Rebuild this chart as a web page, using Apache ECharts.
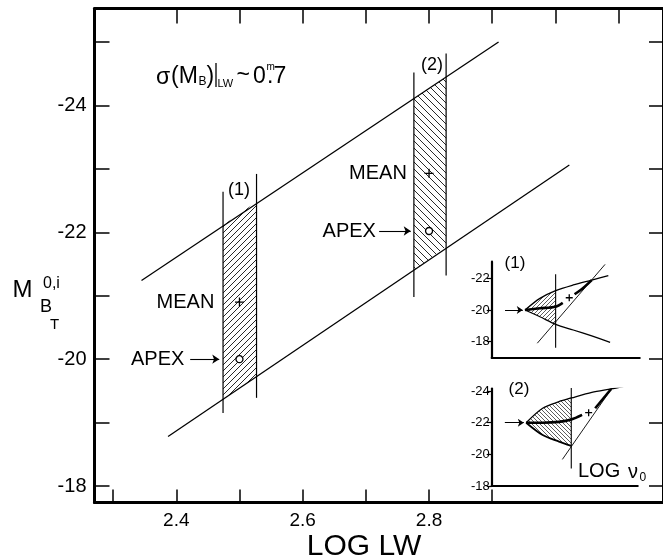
<!DOCTYPE html>
<html>
<head>
<meta charset="utf-8">
<script src="https://cdn.jsdelivr.net/npm/echarts@6/dist/echarts.min.js"></script>
<style>
  html, body { margin: 0; padding: 0; background: #fff; }
  #chart { width: 663px; height: 559px; }
</style>
</head>
<body>
<div id="chart"></div>
<script>
// ---- main panel: absolute magnitude vs. LOG LW ----
const xTickValues    = [2.3, 2.4, 2.5, 2.6, 2.7, 2.8, 2.9];
const xTopTickValues = [2.4, 2.5, 2.6, 2.7, 2.8, 2.9, 3.0, 3.1];
const xLabelValues   = [2.4, 2.6, 2.8];
const yTickValues    = [-25, -24, -23, -22, -21, -20, -19, -18];
const yLabelValues   = [-24, -22, -20, -18];

// the two parallel limiting lines
const upperLineX = [2.345, 2.910];
const upperLineY = [-21.24, -25.00];
const lowerLineX = [2.387, 3.022];
const lowerLineY = [-18.78, -23.06];

// window (1)
const band1X        = [2.474, 2.527];
const band1Top      = [-22.11, -22.48];
const band1Bottom   = [-19.37, -19.72];
const band1LeftEdge = [-22.64, -19.15];
const band1RightEdge= [-22.92, -19.39];
const band1Mean     = [2.50, -20.90];
const band1Apex     = [2.50, -20.00];
const band1ArrowX   = [2.422, 2.468];

// window (2)
const band2X        = [2.776, 2.827];
const band2Top      = [-24.11, -24.45];
const band2Bottom   = [-21.41, -21.77];
const band2LeftEdge = [-24.52, -20.98];
const band2RightEdge= [-24.82, -21.32];
const band2Mean     = [2.80, -22.93];
const band2Apex     = [2.80, -22.02];
const band2ArrowX   = [2.721, 2.771];

// ---- inset (1): magnitude vs. LOG v0 (arbitrary units along x) ----
const in1UpperX = [2.25, 3.26, 4.32, 5.51, 6.76, 7.88];
const in1UpperY = [-20.0, -20.74, -21.23, -21.59, -21.90, -22.18];
const in1LowerX = [2.25, 3.26, 4.32, 5.51, 6.76, 8.0];
const in1LowerY = [-20.0, -19.57, -19.09, -18.73, -18.35, -17.95];
const in1CutX   = 4.32;
const in1CutY   = [-22.27, -17.61];
const in1SlopeX = [3.08, 7.66];
const in1SlopeY = [-17.89, -22.90];
const in1PathX  = [2.25, 3.26, 4.32, 4.80];
const in1PathY  = [-20.0, -20.11, -20.21, -20.45];
const in1TailX  = [5.60, 6.20, 6.76];
const in1TailY  = [-21.00, -21.42, -21.90];
const in1Mean   = [5.24, -20.78];
const in1ArrowX = [0.9, 2.1];
const in1ArrowY = -20.0;
const in1Ticks  = [-22, -20, -18];

// ---- inset (2) ----
const in2UpperX = [2.36, 3.49, 4.61, 5.45, 6.86, 8.18, 9.01];
const in2UpperY = [-22.0, -22.91, -23.33, -23.56, -23.92, -24.13, -24.28];
const in2LowerX = [2.36, 3.49, 4.61, 5.45];
const in2LowerY = [-22.0, -21.22, -20.80, -20.53];
const in2CutX   = 5.45;
const in2CutY   = [-24.49, -19.11];
const in2SlopeX = [4.84, 8.78];
const in2SlopeY = [-19.68, -24.91];
const in2PathX  = [2.36, 3.49, 4.61, 5.45, 6.19];
const in2PathY  = [-22.0, -22.0, -22.05, -22.2, -22.49];
const in2TailX  = [7.09, 8.18];
const in2TailY  = [-22.91, -24.13];
const in2Mean   = [6.64, -22.63];
const in2ArrowX = [0.9, 2.2];
const in2ArrowY = -22.0;
const in2Ticks  = [-24, -22, -20, -18];

const FONT = '"Liberation Sans", Arial, Helvetica, sans-serif';
const INK = '#000';
const font = (size) => size + 'px ' + FONT;
const zip = (xs, ys) => xs.map((x, i) => [x, ys[i]]);

// diagonal hatch tile used as a repeating fill pattern
function hatch(size, forward, width, color) {
  const c = document.createElement('canvas');
  c.width = c.height = size;
  const g = c.getContext('2d');
  g.strokeStyle = color;
  g.lineWidth = width;
  g.beginPath();
  if (forward) {            // '/'
    g.moveTo(-1, size + 1); g.lineTo(size + 1, -1);
    g.moveTo(-1, 1); g.lineTo(1, -1);
    g.moveTo(size - 1, size + 1); g.lineTo(size + 1, size - 1);
  } else {                  // '\'
    g.moveTo(-1, -1); g.lineTo(size + 1, size + 1);
    g.moveTo(size - 1, -1); g.lineTo(size + 1, 1);
    g.moveTo(-1, size - 1); g.lineTo(1, size + 1);
  }
  g.stroke();
  return { image: c, repeat: 'repeat' };
}

const PLUS = 'path://M5,0L5,10M0,5L10,5';

function lineSeries(data, xi, yi, width, extra) {
  return Object.assign({
    type: 'line', xAxisIndex: xi, yAxisIndex: yi, data: data,
    showSymbol: false, symbol: 'none', silent: true,
    lineStyle: { color: INK, width: width }, z: 3
  }, extra || {});
}

// hatched window between band edges, from [x0, x1, top0, top1, bottom0, bottom1]
function bandSeries(x, top, bottom, pattern) {
  return {
    type: 'custom', xAxisIndex: 0, yAxisIndex: 0, silent: true, z: 1,
    data: [[x[0], x[1], top[0], top[1], bottom[0], bottom[1]]],
    encode: { x: [0, 1], y: [2, 3, 4, 5] },
    renderItem: function (params, api) {
      const p = [
        api.coord([api.value(0), api.value(2)]),
        api.coord([api.value(1), api.value(3)]),
        api.coord([api.value(1), api.value(5)]),
        api.coord([api.value(0), api.value(4)])
      ];
      return { type: 'polygon', shape: { points: p }, style: { fill: pattern, stroke: null } };
    }
  };
}

// hatched lens between the two inset curves, left of the cut
function lensSeries(xi, yi, ux, uy, lx, ly, cutX, pattern) {
  const up = zip(ux, uy).filter(p => p[0] <= cutX + 1e-9);
  const lo = zip(lx, ly).filter(p => p[0] <= cutX + 1e-9).reverse();
  const flat = [];
  up.concat(lo).forEach(p => { flat.push(p[0], p[1]); });
  return {
    type: 'custom', xAxisIndex: xi, yAxisIndex: yi, silent: true, z: 1,
    data: [flat],
    renderItem: function (params, api) {
      const pts = [];
      for (let i = 0; i < flat.length; i += 2) pts.push(api.coord([api.value(i), api.value(i + 1)]));
      return { type: 'polygon', shape: { points: pts }, style: { fill: pattern, stroke: null } };
    }
  };
}

function arrowSeries(xi, yi, x, y, size) {
  return {
    type: 'lines', coordinateSystem: 'cartesian2d', xAxisIndex: xi, yAxisIndex: yi,
    silent: true, z: 4,
    symbol: ['none', 'arrow'], symbolSize: size,
    lineStyle: { color: INK, width: 1.1, opacity: 1 },
    data: [{ coords: [[x[0], y], [x[1], y]] }]
  };
}

function markerSeries(xi, yi, point, symbol, size, labelText, dist, fill) {
  return {
    type: 'scatter', xAxisIndex: xi, yAxisIndex: yi, silent: true, z: 5,
    symbol: symbol, symbolSize: size,
    itemStyle: { color: fill, borderColor: INK, borderWidth: 1.3, opacity: 1 },
    label: labelText ? {
      show: true, position: 'left', distance: dist, formatter: labelText,
      fontFamily: FONT, fontSize: 20, color: INK
    } : { show: false },
    data: [point]
  };
}

const X_MIN = 2.2706, X_MAX = 3.1702;
const Y_MIN = -25.528, Y_MAX = -17.740;

const mainAxisLine = { show: true, onZero: false, lineStyle: { color: INK, width: 3 } };
const insetAxisLine = { show: true, onZero: false, lineStyle: { color: INK, width: 2.2 } };

const option = {
  animation: false,
  backgroundColor: '#fff',
  textStyle: { fontFamily: FONT, color: INK },
  grid: [
    { left: 94.5, top: 8.5, width: 573.5, height: 494 },
    { left: 491.7, top: 261.7, width: 148, height: 96 },
    { left: 491.7, top: 388.5, width: 146, height: 97.5 }
  ],
  xAxis: [
    { gridIndex: 0, type: 'value', position: 'bottom', min: X_MIN, max: X_MAX,
      axisLine: mainAxisLine,
      axisTick: { show: true, inside: true, length: 13, customValues: xTickValues,
                  lineStyle: { color: INK, width: 1.5 } },
      axisLabel: { show: true, customValues: xLabelValues, formatter: v => v.toFixed(1),
                   fontSize: 19, color: INK, margin: 9 },
      splitLine: { show: false } },
    { gridIndex: 0, type: 'value', position: 'top', min: X_MIN, max: X_MAX,
      axisLine: mainAxisLine,
      axisTick: { show: true, inside: true, length: 15, customValues: xTopTickValues,
                  lineStyle: { color: INK, width: 1.5 } },
      axisLabel: { show: false }, splitLine: { show: false } },
    { gridIndex: 1, type: 'value', min: 0, max: 10, axisLine: insetAxisLine,
      axisTick: { show: false }, axisLabel: { show: false }, splitLine: { show: false } },
    { gridIndex: 2, type: 'value', min: 0, max: 10, axisLine: insetAxisLine,
      axisTick: { show: false }, axisLabel: { show: false }, splitLine: { show: false } }
  ],
  yAxis: [
    { gridIndex: 0, type: 'value', position: 'left', inverse: true, min: Y_MIN, max: Y_MAX,
      axisLine: mainAxisLine,
      axisTick: { show: true, inside: true, length: 15, customValues: yTickValues,
                  lineStyle: { color: INK, width: 1.5 } },
      axisLabel: { show: true, customValues: yLabelValues, fontSize: 20, color: INK, margin: 8 },
      splitLine: { show: false } },
    { gridIndex: 0, type: 'value', position: 'right', inverse: true, min: Y_MIN, max: Y_MAX,
      axisLine: mainAxisLine,
      axisTick: { show: true, inside: true, length: 14, customValues: yTickValues,
                  lineStyle: { color: INK, width: 1.5 } },
      axisLabel: { show: false }, splitLine: { show: false } },
    { gridIndex: 1, type: 'value', inverse: true, min: -23.07, max: -16.97,
      axisLine: insetAxisLine,
      axisTick: { show: true, length: 5, customValues: in1Ticks, lineStyle: { color: INK, width: 1.2 } },
      axisLabel: { show: true, customValues: in1Ticks, fontSize: 13, color: INK, margin: 2 },
      splitLine: { show: false } },
    { gridIndex: 2, type: 'value', inverse: true, min: -24.16, max: -18.0,
      axisLine: insetAxisLine,
      axisTick: { show: true, length: 5, customValues: in2Ticks, lineStyle: { color: INK, width: 1.2 } },
      axisLabel: { show: true, customValues: in2Ticks, fontSize: 13, color: INK, margin: 2 },
      splitLine: { show: false } }
  ],
  series: [
    // main panel
    bandSeries(band1X, band1Top, band1Bottom, hatch(6, true, 0.9, '#111')),
    bandSeries(band2X, band2Top, band2Bottom, hatch(7, false, 0.9, '#111')),
    lineSeries(zip(upperLineX, upperLineY), 0, 0, 1.3),
    lineSeries(zip(lowerLineX, lowerLineY), 0, 0, 1.3),
    lineSeries([[band1X[0], band1LeftEdge[0]], [band1X[0], band1LeftEdge[1]]], 0, 0, 1.2),
    lineSeries([[band1X[1], band1RightEdge[0]], [band1X[1], band1RightEdge[1]]], 0, 0, 1.2),
    lineSeries([[band2X[0], band2LeftEdge[0]], [band2X[0], band2LeftEdge[1]]], 0, 0, 1.2),
    lineSeries([[band2X[1], band2RightEdge[0]], [band2X[1], band2RightEdge[1]]], 0, 0, 1.2),
    markerSeries(0, 0, band1Mean, PLUS, 9, 'MEAN', 20, 'transparent'),
    markerSeries(0, 0, band1Apex, 'circle', 7, 'APEX', 51, '#fff'),
    markerSeries(0, 0, band2Mean, PLUS, 9, 'MEAN', 17, 'transparent'),
    markerSeries(0, 0, band2Apex, 'circle', 7, 'APEX', 49, '#fff'),
    arrowSeries(0, 0, band1ArrowX, band1Apex[1], 7),
    arrowSeries(0, 0, band2ArrowX, band2Apex[1], 7),

    // inset (1)
    lensSeries(2, 2, in1UpperX, in1UpperY, in1LowerX, in1LowerY, in1CutX, hatch(4, true, 0.8, '#333')),
    lineSeries(zip(in1UpperX, in1UpperY), 2, 2, 1.3, { smooth: 0.3 }),
    lineSeries(zip(in1LowerX, in1LowerY), 2, 2, 1.3, { smooth: 0.3 }),
    lineSeries([[in1CutX, in1CutY[0]], [in1CutX, in1CutY[1]]], 2, 2, 1.1),
    lineSeries(zip(in1SlopeX, in1SlopeY), 2, 2, 0.9),
    lineSeries(zip(in1PathX, in1PathY), 2, 2, 2.6, { smooth: 0.3 }),
    lineSeries(zip(in1TailX, in1TailY), 2, 2, 2.6, { smooth: 0.3 }),
    markerSeries(2, 2, in1Mean, PLUS, 7, null, 0, 'transparent'),
    arrowSeries(2, 2, in1ArrowX, in1ArrowY, 6),

    // inset (2)
    lensSeries(3, 3, in2UpperX, in2UpperY, in2LowerX, in2LowerY, in2CutX, hatch(4, false, 0.8, '#333')),
    lineSeries(zip(in2UpperX, in2UpperY), 3, 3, 1.3, { smooth: 0.3 }),
    lineSeries(zip(in2LowerX, in2LowerY), 3, 3, 1.8, { smooth: 0.3 }),
    lineSeries([[in2CutX, in2CutY[0]], [in2CutX, in2CutY[1]]], 3, 3, 1.1),
    lineSeries(zip(in2SlopeX, in2SlopeY), 3, 3, 0.9),
    lineSeries(zip(in2PathX, in2PathY), 3, 3, 2.6, { smooth: 0.3 }),
    lineSeries(zip(in2TailX, in2TailY), 3, 3, 2.6),
    markerSeries(3, 3, in2Mean, PLUS, 7, null, 0, 'transparent'),
    arrowSeries(3, 3, in2ArrowX, in2ArrowY, 6)
  ],
  graphic: []
};

// free-standing text: axis titles, window labels, scatter note
function txt(text, x, y, size, align) {
  return {
    type: 'text', x: x, y: y, silent: true, z: 10,
    style: {
      text: text, font: font(size), fill: INK,
      align: align || 'left', verticalAlign: 'middle',
      textAlign: align || 'left', textVerticalAlign: 'middle'
    }
  };
}

option.graphic = [
  // y title  M_{B_T}^{0,i}
  txt('M', 12.5, 290, 24),
  txt('0,i', 43, 283.5, 16),
  txt('B', 40, 307.5, 18),
  txt('T', 50, 325, 15),
  // x title
  txt('LOG LW', 364, 546.5, 30, 'center'),
  // window labels
  txt('(1)', 239, 190, 18, 'center'),
  txt('(2)', 432, 65, 18, 'center'),
  txt('(1)', 515, 263.5, 17, 'center'),
  txt('(2)', 519, 389, 17, 'center'),
  // inset x title  LOG v0
  txt('LOG', 578, 471, 20),
  txt('\u03bd', 628, 472, 20),
  txt('0', 639.5, 478, 12),
  // scatter note  σ(M_B)|_LW ~ 0^m.7
  txt('\u03c3', 156, 78, 23),
  txt('(M', 171, 77, 23),
  txt('B', 198.5, 82, 12),
  txt(')', 206.5, 77, 23),
  { type: 'line', silent: true, z: 10,
    shape: { x1: 216, y1: 63, x2: 216, y2: 87 },
    style: { stroke: INK, lineWidth: 1.3 } },
  txt('LW', 217.5, 83.5, 11),
  txt('~', 236.5, 76, 23),
  txt('0', 253, 77, 23),
  txt('m', 266.5, 67.5, 10),
  txt('.7', 267, 77, 23)
];

const chart = echarts.init(document.getElementById('chart'), null, { renderer: 'canvas' });
chart.setOption(option);
</script>
</body>
</html>
